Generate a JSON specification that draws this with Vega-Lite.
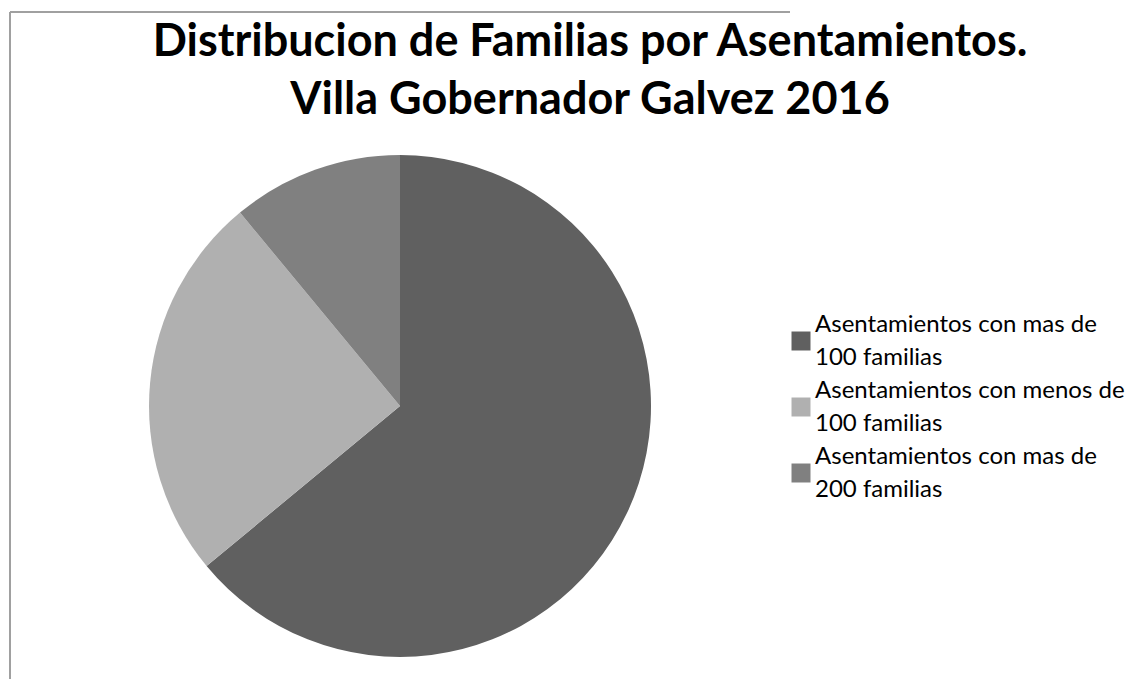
{
  "$schema": "https://vega.github.io/schema/vega-lite/v6.json",
  "width": 780,
  "height": 788,
  "padding": {"left": 10, "top": 12, "right": 0, "bottom": 0},
  "background": "white",
  "view": {"stroke": "#a0a0a0", "strokeWidth": 2, "strokeDash": [780, 788, 1568, 0]},
  "title": {
    "text": ["Distribucion de Familias por Asentamientos.", "Villa Gobernador Galvez 2016"],
    "font": "Lato",
    "fontSize": 45,
    "fontWeight": "bold",
    "color": "#000000",
    "lineHeight": 58,
    "anchor": "middle",
    "frame": "group",
    "dx": 190,
    "offset": -111
  },
  "data": {
    "values": [
      {"asentamiento": "Asentamientos con mas de 100 familias", "familias": 64},
      {"asentamiento": "Asentamientos con menos de 100 familias", "familias": 25},
      {"asentamiento": "Asentamientos con mas de 200 familias", "familias": 11}
    ]
  },
  "mark": {"type": "arc", "radius": 251, "stroke": null},
  "encoding": {
    "theta": {"field": "familias", "type": "quantitative", "stack": true},
    "order": {"field": "familias", "type": "quantitative", "sort": "descending"},
    "color": {
      "field": "asentamiento",
      "type": "nominal",
      "scale": {
        "domain": ["Asentamientos con mas de 100 familias", "Asentamientos con menos de 100 familias", "Asentamientos con mas de 200 familias"],
        "range": ["#606060", "#b0b0b0", "#808080"]
      },
      "legend": {
        "title": null,
        "orient": "none",
        "legendX": 779,
        "legendY": 317,
        "padding": 0,
        "rowPadding": 9,
        "symbolType": "square",
        "symbolSize": 361,
        "symbolStrokeWidth": 0,
        "labelFont": "Lato",
        "labelFontSize": 24,
        "labelColor": "#000000",
        "labelOffset": 2,
        "labelLimit": 500,
        "labelExpr": "[slice(datum.label, 0, indexof(datum.label, ' familias') - 4), slice(datum.label, indexof(datum.label, ' familias') - 3)]"
      }
    }
  },
  "config": {
    "style": {"guide-label": {"lineHeight": 33, "dy": -16}}
  }
}
